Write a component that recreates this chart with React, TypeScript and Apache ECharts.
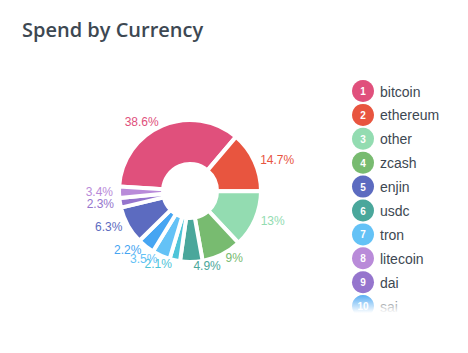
import { useEffect, useRef } from "react";
import * as echarts from "echarts";

const chartTitle = "Spend by Currency";

// Pie slices in clockwise order (as drawn)
const pieNames = ["bitcoin", "ethereum", "other", "zcash", "usdc", "currency 11", "tron", "sai", "enjin", "dai", "litecoin"];
// Share of the circle each slice occupies (%)
const pieShares = [35.2, 13.9, 13.0, 9.1, 5.1, 2.4, 4.1, 3.9, 8.6, 2.2, 2.6];
// Percentage printed beside each slice
const piePercents = [38.6, 14.7, 13, 9, 4.9, 2.1, 3.5, 2.2, 6.3, 2.3, 3.4];

// Legend (as listed on the right)
const legendNames = ["bitcoin", "ethereum", "other", "zcash", "enjin", "usdc", "tron", "litecoin", "dai", "sai"];

const colorOf: Record<string, string> = {
  bitcoin: "#e0507c",
  ethereum: "#e8553f",
  other: "#93dcb1",
  zcash: "#78bb70",
  usdc: "#4aa79b",
  "currency 11": "#4ec4d8",
  tron: "#64c2f6",
  sai: "#46a5f2",
  enjin: "#5c6bc0",
  dai: "#9575cd",
  litecoin: "#b98bd9",
};

const FONT = "'Liberation Sans', Arial, sans-serif";
const TITLE_FONT = "'Open Sans', 'Liberation Sans', Arial, sans-serif";
const TEXT = "#3d4852";

export default function App() {
  const ref = useRef<HTMLDivElement>(null);
  useEffect(() => {
    document.body.style.margin = "0";
    const chart = echarts.init(ref.current!, null, { renderer: "svg" });

    const legendGraphics: any[] = [];
    const lx = 363;
    const ly0 = 91;
    const step = 23.9;
    legendNames.forEach((n, i) => {
      const cy = ly0 + i * step;
      legendGraphics.push({
        type: "circle",
        shape: { cx: lx, cy, r: 11 },
        style: { fill: colorOf[n] },
        silent: true,
      });
      legendGraphics.push({
        type: "text",
        x: lx,
        y: cy + 0.5,
        style: {
          text: String(i + 1),
          fill: "#fff",
          fontSize: 10,
          fontWeight: "bold",
          fontFamily: FONT,
          align: "center",
          verticalAlign: "middle",
        },
        silent: true,
      });
      legendGraphics.push({
        type: "text",
        x: 380,
        y: cy + 0.5,
        style: {
          text: n,
          fill: TEXT,
          fontSize: 14,
          fontFamily: FONT,
          align: "left",
          verticalAlign: "middle",
        },
        silent: true,
      });
    });
    // fade out the bottom of the legend list
    legendGraphics.push({
      type: "rect",
      shape: { x: 340, y: 293, width: 128, height: 20 },
      style: {
        fill: new echarts.graphic.LinearGradient(0, 0, 0, 1, [
          { offset: 0, color: "rgba(255,255,255,0)" },
          { offset: 1, color: "rgba(255,255,255,1)" },
        ]),
      },
      silent: true,
    });
    legendGraphics.push({
      type: "rect",
      shape: { x: 340, y: 313, width: 128, height: 40 },
      style: { fill: "#fff" },
      silent: true,
    });

    chart.setOption({
      animation: false,
      title: {
        text: chartTitle,
        left: 17,
        top: 14,
        textStyle: { fontSize: 20, fontWeight: 600, color: TEXT, fontFamily: TITLE_FONT },
      },
      graphic: legendGraphics,
      series: [
        {
          type: "pie",
          silent: true,
          center: [190, 191],
          radius: [27, 71],
          startAngle: 176.3,
          clockwise: true,
          avoidLabelOverlap: false,
          itemStyle: { borderColor: "#fff", borderWidth: 4 },
          label: {
            show: true,
            position: "outside",
            fontSize: 12,
            fontFamily: FONT,
            distanceToLabelLine: 2,
            formatter: (p: any) => `${piePercents[p.dataIndex]}%`,
          },
          labelLine: { show: false, length: 4, length2: 0 },
          labelLayout: { hideOverlap: false },
          emphasis: { disabled: true },
          data: pieNames.map((n, i) => ({
            name: n,
            value: pieShares[i],
            itemStyle: { color: colorOf[n] },
            label: { color: colorOf[n] },
          })),
        },
      ],
    });
    return () => chart.dispose();
  }, []);
  return <div ref={ref} style={{ width: 468, height: 353 }} />;
}
